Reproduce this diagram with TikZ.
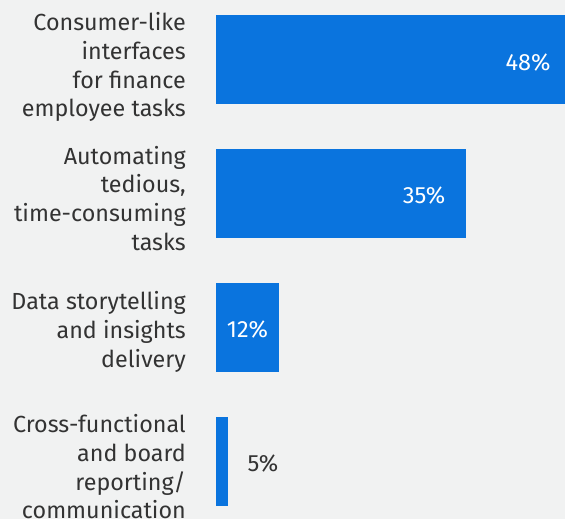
\documentclass[tikz,border=0pt]{standalone}
\usepackage{fontspec}
\setmainfont{Fira Sans}
\definecolor{bg}{HTML}{F1F2F2}
\definecolor{barblue}{HTML}{0A74DE}
\definecolor{ink}{HTML}{333333}
\begin{document}
\begin{tikzpicture}[x=1pt,y=-1pt,
  bar/.style={fill=barblue,draw=none},
  lbl/.style={anchor=base east,align=right,inner sep=0pt,text=ink,
    font=\fontsize{23.3}{28.7}\selectfont},
  val/.style={anchor=base,inner sep=0pt,text=white,font=\fontsize{23.5}{26}\selectfont},
  valout/.style={val,text=ink}]
\fill[bg] (0,0) rectangle (565,519);
\useasboundingbox (0,0) rectangle (565,519);
% bars
\path[bar] (216,15) rectangle (565,104);
\path[bar] (216,149) rectangle (466,238);
\path[bar] (216,283) rectangle (279,372);
\path[bar] (216,417) rectangle (228,506);
% labels (base anchor = baseline of last line)
\node[lbl] (l1) at (186,116.7) {Consumer-like\\interfaces\\for finance\\employee tasks};
\node[lbl] (l2) at (186,250.3) {Automating\\tedious,\\time-consuming\\tasks};
\node[lbl] (l3) at (186,367.3) {Data storytelling\\and insights\\delivery};
\node[lbl] (l4) at (186,518.7) {Cross-functional\\and board\\reporting/\\communication};
% values
\node[val] (v1) at (528,70.5) {48\%};
\node[val] (v2) at (424,203.5) {35\%};
\node[val] (v3) at (247.5,337.5) {12\%};
\node[valout] (v4) at (263,471.5) {5\%};
\end{tikzpicture}
\end{document}
